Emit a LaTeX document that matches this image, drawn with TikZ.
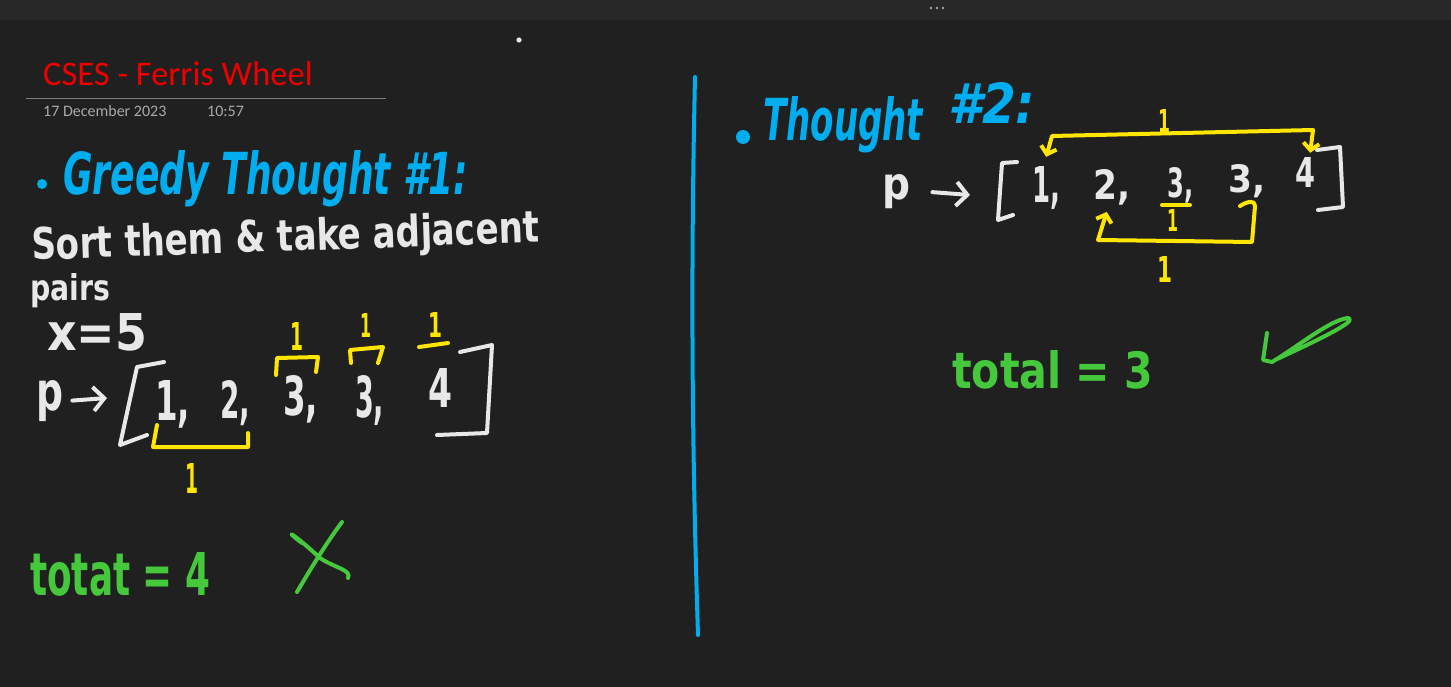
\documentclass[tikz,border=0pt]{standalone}
\usepackage{graphicx}
\usepackage{fontspec}
\setmainfont{Carlito}
\newfontfamily\hand{DejaVu Sans}
\usetikzlibrary{arrows.meta}
\definecolor{bgc}{RGB}{32,32,32}
\definecolor{barc}{RGB}{40,40,40}
\definecolor{ink}{RGB}{232,232,232}
\definecolor{hblue}{RGB}{0,174,239}
\definecolor{yel}{RGB}{255,230,0}
\definecolor{grn}{RGB}{70,200,60}
\definecolor{titlered}{RGB}{238,0,0}
\definecolor{dategray}{RGB}{170,170,170}
\definecolor{rulegray}{RGB}{125,125,125}
\newcommand{\hw}[3]{\resizebox{#1pt}{#2pt}{\hand\bfseries #3}}
\tikzset{
  pen/.style={line width=4pt, line cap=round, line join=round},
  wpen/.style={pen, draw=ink},
  ypen/.style={pen, draw=yel},
  gpen/.style={pen, draw=grn},
  bpen/.style={pen, draw=hblue},
  txt/.style={inner sep=0pt, anchor=base west},
  barb/.tip={Straight Barb[length=7pt,width=16pt]},
  bigbarb/.tip={Straight Barb[length=11pt,width=24pt]},
}
\begin{document}
\begin{tikzpicture}[x=1pt,y=-1pt]
\useasboundingbox (0,0) rectangle (1451,687);
% background and window bar
\fill[bgc] (0,0) rectangle (1451,687);
\fill[barc] (0,0) rectangle (1451,20);
\foreach \dx in {931,937,943} \fill[dategray] (\dx,8) circle (1.3);
\fill[ink] (519,40) circle (2.6);
% page header
\node[txt, text=titlered, font=\fontsize{34.5}{34.5}\selectfont] (title) at (43,86) {CSES - Ferris Wheel};
\draw[rulegray, line width=1pt] (26,99) -- (386,99);
\node[txt, text=dategray, font=\fontsize{16}{16}\selectfont] (date) at (43,117) {17 December 2023};
\node[txt, text=dategray, font=\fontsize{16}{16}\selectfont] (time) at (207,117) {10:57};

% ---------------- left part ----------------
\fill[hblue] (42,184) circle (5);
\node[txt, text=hblue] (g1) at (63,195) {\hw{405}{44}{\itshape Greedy Thought \#1:}};
\node[txt, text=ink, rotate=2] (sort) at (32,260) {\hw{508}{33}{Sort them \& take adjacent}};
\node[txt, text=ink] (pairs) at (30,300) {\hw{80}{27}{pairs}};
\node[txt, text=ink] (x5) at (47,350) {\hw{100}{37}{x=5}};

\node[txt, text=ink] (lp) at (36,410) {\hw{27}{30}{p}};
\coordinate (la) at (107,398);
\draw[wpen, -bigbarb] ([xshift=9pt]lp.east) -- (la);
\draw[wpen] (164,362) -- (137,367) -- (120,445) -- (147,435);
\node[txt, text=ink] (l1) at (155,420) {\hw{35}{40}{1,}};
\node[txt, text=ink] (l2) at (220,418) {\hw{30}{38}{2,}};
\node[txt, text=ink] (l3) at (283,415) {\hw{35}{40}{3,}};
\node[txt, text=ink] (l4) at (355,417) {\hw{29}{42}{3,}};
\node[txt, text=ink] (l5) at (428,407) {\hw{24}{39}{4}};
\draw[wpen] (460,352) -- (492,345) -- (487,433) -- (437,435);

% yellow groupings (left)
\draw[ypen] (157,425) -- (153,447) -- (248,447) -- (248,433);
\node[txt, text=yel] (ly1) at (185,493) {\hw{13}{30}{1}};
\draw[ypen] (276,375) -- (277,358) -- (318,357) -- (316,372);
\node[txt, text=yel] (ly2) at (290,350) {\hw{13}{28}{1}};
\draw[ypen] (351,363) -- (350,350) -- (383,347) -- (378,363);
\node[txt, text=yel] (ly3) at (360,337) {\hw{11}{24}{1}};
\draw[ypen] (419,347) -- (448,343);
\node[txt, text=yel] (ly4) at (428,337) {\hw{14}{25}{1}};

% result left
\node[txt, text=grn] (tot1) at (30,595) {\hw{180}{43}{totat = 4}};
\draw[gpen] (342,522) .. controls (325,545) and (310,570) .. (297,592);
\draw[gpen] (302,543) .. controls (282,528) and (292,532) .. (320,558) .. controls (335,568) and (352,570) .. (348,578);

% divider
\draw[bpen] (695,77) .. controls (690,300) and (693,480) .. (698,635);

% ---------------- right part ----------------
\fill[hblue] (743,137) circle (7);
\node[txt, text=hblue] (t2a) at (763,141) {\hw{160}{44}{\itshape Thought}};
\node[txt, text=hblue] (t2b) at (948,124) {\hw{87}{41}{\itshape \#2:}};

\node[txt, text=ink] (rp) at (882,200) {\hw{28}{25}{p}};
\coordinate (ra) at (970,195);
\draw[wpen, -bigbarb] ([xshift=22pt]rp.east) -- (ra);
\draw[wpen] (1017,162) -- (1002,163) -- (998,220) -- (1013,215);
\node[txt, text=ink] (r1) at (1032,203) {\hw{28}{36}{1,}};
\node[txt, text=ink] (r2) at (1093,200) {\hw{37}{30}{2,}};
\node[txt, text=ink] (r3) at (1167,198) {\hw{26}{30}{3,}};
\node[txt, text=ink] (r4) at (1228,193) {\hw{37}{28}{3,}};
\node[txt, text=ink] (r5) at (1295,188) {\hw{20}{30}{4}};
\draw[wpen] (1317,150) -- (1340,147) -- (1343,207) -- (1318,210);

% yellow pairings (right)
\draw[ypen, barb-barb] ([xshift=5pt,yshift=5pt]r5.north) -- (1313,130) -- (1052,136) -- ([yshift=10pt]r1.north);
\node[txt, text=yel] (ry1) at (1158,133) {\hw{12}{23}{1}};
\draw[ypen] (1162,205) -- (1190,205);
\node[txt, text=yel] (ry2) at (1167,232) {\hw{11}{22}{1}};
\draw[ypen, -barb] (1240,206) .. controls (1248,201) and (1255,200) .. (1255,206) -- (1252,242) -- (1098,240) -- ([xshift=-5pt,yshift=-6pt]r2.south);
\node[txt, text=yel] (ry3) at (1157,283) {\hw{15}{26}{1}};

% result right
\node[txt, text=grn] (tot2) at (952,388) {\hw{201}{38}{total = 3}};
\draw[gpen] (1267,333) -- (1263,360) -- (1272,362) .. controls (1300,345) and (1330,320) .. (1348,318) .. controls (1356,320) and (1340,330) .. (1275,360);
\end{tikzpicture}
\end{document}
